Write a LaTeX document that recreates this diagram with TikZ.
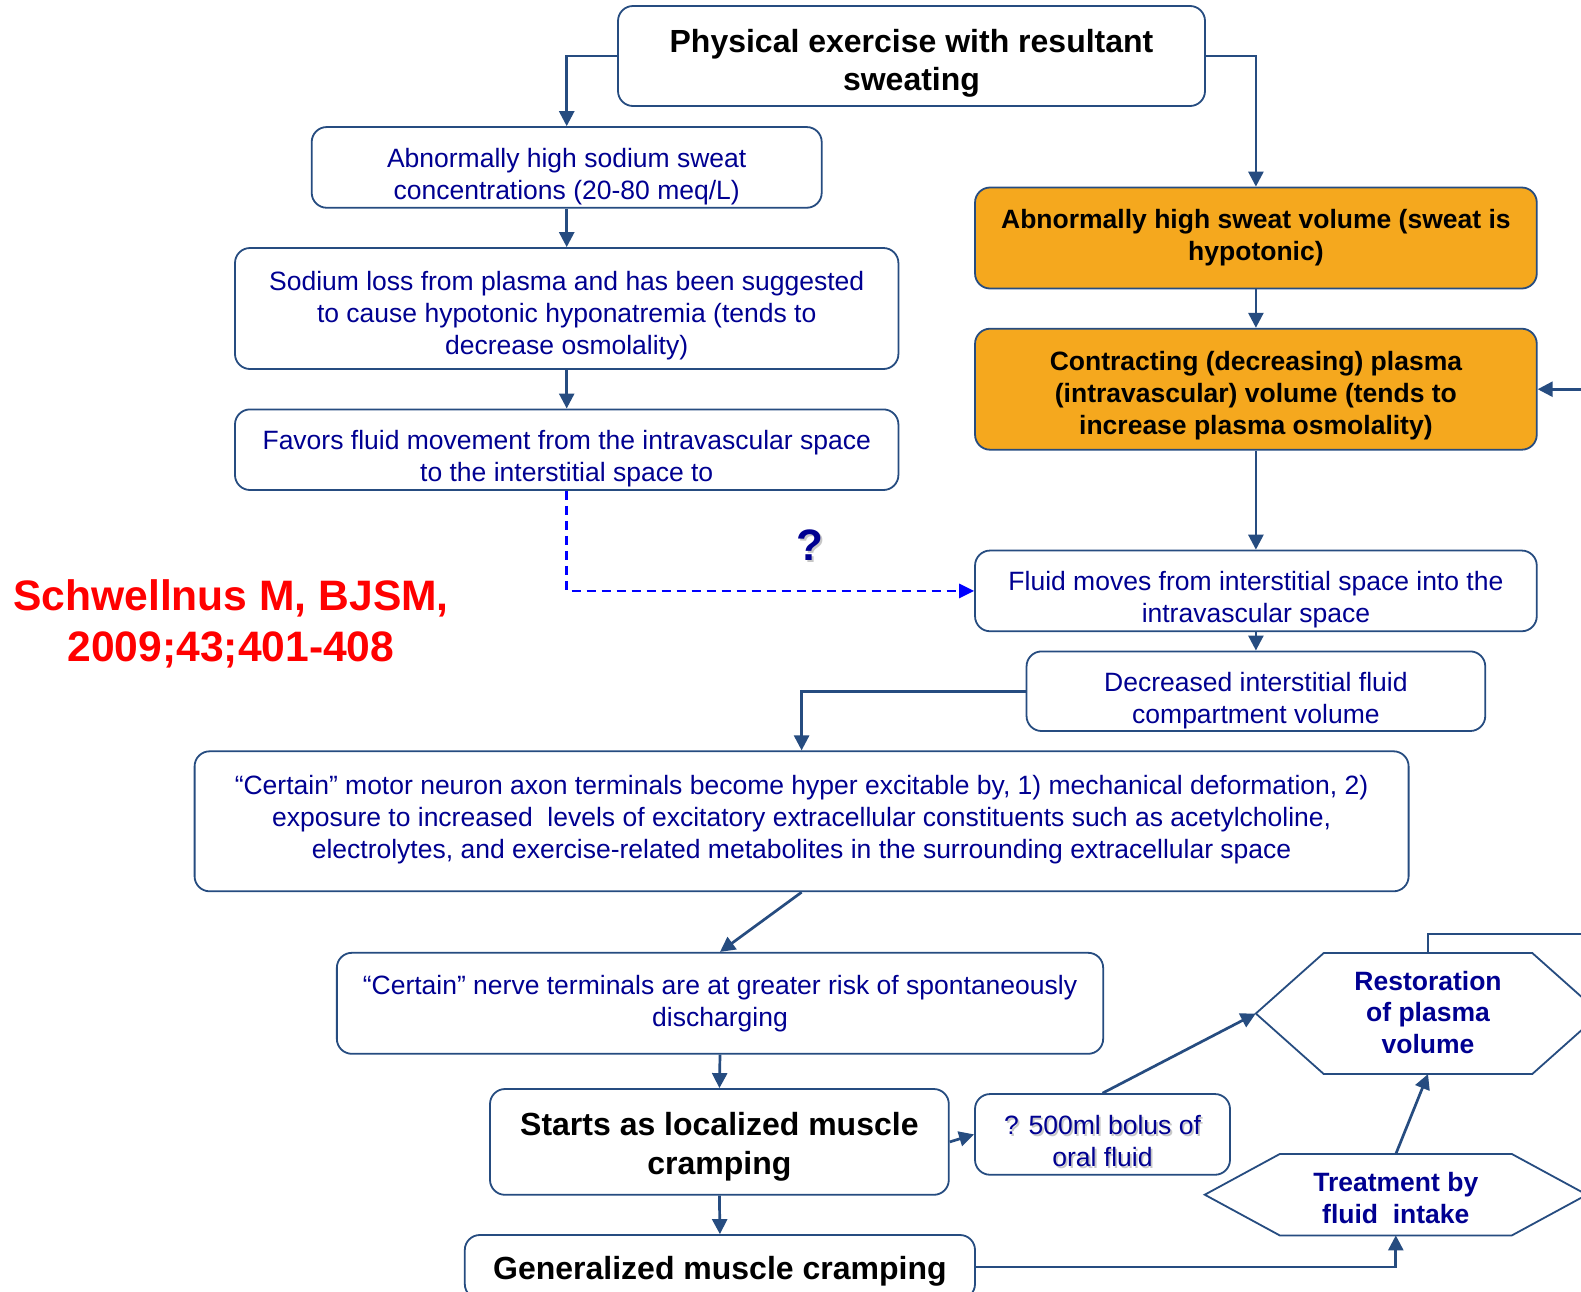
\documentclass[tikz,border=0pt]{standalone}
\usepackage{fontspec}
\setmainfont{Liberation Sans}
\usetikzlibrary{arrows.meta}
\definecolor{edge}{RGB}{38,76,128}
\definecolor{navy}{RGB}{0,0,145}
\definecolor{amber}{RGB}{245,168,30}
\definecolor{dashblue}{RGB}{0,0,255}
\tikzset{
  box/.style={draw=edge, line width=1.8pt, rounded corners=15pt, fill=white,
    inner sep=0pt},
  hotbox/.style={box, fill=amber},
  txt/.style={inner sep=0pt, align=center, text=navy,
    font=\fontsize{26.5}{32}\selectfont},
  hottxt/.style={txt, text=black, font=\bfseries\fontsize{26.5}{32}\selectfont},
  bigtxt/.style={txt, text=black, font=\bfseries\fontsize{32}{38.3}\selectfont},
  hexlabel/.style={inner sep=0pt, align=center, text=navy,
    font=\bfseries\fontsize{26.5}{31.7}\selectfont},
  hexline/.style={draw=edge, line width=1.8pt, fill=white, line join=miter},
  conn/.style={draw=edge, line width=2.7pt, -{Triangle[length=15pt,width=15pt]}},
  guess/.style={draw=dashblue, line width=2.8pt, dash pattern=on 9pt off 6pt,
    -{Triangle[length=15pt,width=14pt]}},
}
\begin{document}
\begin{tikzpicture}[x=1pt, y=-1pt]
\path[use as bounding box, fill=white] (0,0) rectangle (1581,1291);
\clip (0,0) rectangle (1581,1291);

% left branch
\node[box, minimum width=587pt, minimum height=100pt] (title) at (911.5,56) {};
\node[bigtxt] at ([yshift=-7pt]title.center) {Physical exercise with resultant\\sweating};
\node[box, minimum width=510pt, minimum height=80.7pt] (sod) at (566.7,167.4) {};
\node[txt] at ([yshift=-9pt]sod.center) {Abnormally high sodium sweat\\concentrations (20-80 meq/L)};
\node[box, minimum width=663.4pt, minimum height=121pt] (loss) at (566.7,308.5) {};
\node[txt] at ([yshift=-7pt]loss.center)
  {Sodium loss from plasma and has been suggested\\to cause hypotonic hyponatremia (tends to\\decrease osmolality)};
\node[box, minimum width=663.4pt, minimum height=80.6pt] (fav) at (566.7,449.7) {};
\node[txt] at ([yshift=-9pt]fav.center)
  {Favors fluid movement from the intravascular space\\to the interstitial space to};

% right branch
\node[hotbox, minimum width=561.7pt, minimum height=101pt] (o1) at (1255.9,238) {};
\node[hottxt] at (o1.center) {Abnormally high sweat volume (sweat is\\hypotonic)};
\node[hotbox, minimum width=561.7pt, minimum height=121pt] (o2) at (1255.9,389.2) {};
\node[hottxt] at ([yshift=-6pt]o2.center)
  {Contracting (decreasing) plasma\\(intravascular) volume (tends to\\increase plasma osmolality)};
\node[box, minimum width=561.7pt, minimum height=80.7pt] (fm) at (1255.9,590.9) {};
\node[txt] at ([yshift=-9pt]fm.center) {Fluid moves from interstitial space into the\\intravascular space};
\node[box, minimum width=458.7pt, minimum height=79.6pt] (dec) at (1255.9,691.2) {};
\node[txt] at ([yshift=-9pt]dec.center) {Decreased interstitial fluid\\compartment volume};

% lower chain
\node[box, minimum width=1214pt, minimum height=140pt] (cert) at (801.6,821.3) {};
\node[txt] at ([yshift=2pt]cert.center)
  {“Certain” motor neuron axon terminals become hyper excitable by, 1) mechanical deformation, 2)\\
   exposure to increased\ \ levels of excitatory extracellular constituents such as acetylcholine,\\
   electrolytes, and exercise-related metabolites in the surrounding extracellular space};
\node[box, minimum width=766.3pt, minimum height=101pt] (nerve) at (720,1003.3) {};
\node[txt] at (nerve.center)
  {“Certain” nerve terminals are at greater risk of spontaneously\\discharging};
\node[box, minimum width=458.8pt, minimum height=105.8pt] (starts) at (719.4,1141.9) {};
\node[bigtxt] at ([yshift=-5pt]starts.center) {Starts as localized muscle\\cramping};
\node[box, minimum width=510.2pt, minimum height=64pt] (gen) at (719.9,1267) {};
\node[bigtxt] at ([yshift=-4pt]gen.center) {Generalized muscle cramping};
\node[box, minimum width=255pt, minimum height=80.7pt] (bolus) at (1102.5,1134.4) {};
\node[txt, text=black!22] at ([xshift=1.8pt,yshift=-8.8pt]bolus.center) {? 500ml bolus of\\oral fluid};
\node[txt] at ([yshift=-7pt]bolus.center) {? 500ml bolus of\\oral fluid};

% hexagons
\node[hexlabel, minimum width=344pt, minimum height=120.7pt] (res) at (1428,1013.5) {};
\path[hexline] (res.west) -- ([xshift=68pt]res.north west) -- ([xshift=-68pt]res.north east)
  -- (res.east) -- ([xshift=-68pt]res.south east) -- ([xshift=68pt]res.south west) -- cycle;
\node[hexlabel] at ([yshift=1pt]res.center) {Restoration\\of plasma\\volume};

\node[hexlabel, minimum width=381.7pt, minimum height=81pt] (tr) at (1395.8,1194.7) {};
\path[hexline] (tr.west) -- ([xshift=75pt]tr.north west) -- ([xshift=-75pt]tr.north east)
  -- (tr.east) -- ([xshift=-75pt]tr.south east) -- ([xshift=75pt]tr.south west) -- cycle;
\node[hexlabel] at ([yshift=-3pt]tr.center) {Treatment by\\fluid\ \ intake};

% free labels
\node[text=black!22, font=\bfseries\fontsize{44}{44}\selectfont] at (812,547) {?};
\node[text=navy, font=\bfseries\fontsize{44}{44}\selectfont] (qm) at (810,545) {?};
\node[text=red, align=center, font=\bfseries\fontsize{42.6}{51}\selectfont] (ref) at (231,624)
  {Schwellnus M, BJSM,\\2009;43;401-408};

% connectors
\coordinate (loop) at (1625,934);
\draw[conn] (title.west) -| (sod.north);
\draw[conn] (title.east) -| (o1.north);
\draw[conn] (sod.south) -- (loss.north);
\draw[conn] (loss.south) -- (fav.north);
\draw[guess] (fav.south) |- (fm.west);
\draw[conn] (o1.south) -- (o2.north);
\draw[conn] (o2.south) -- (fm.north);
\draw[conn] (fm.south) -- (dec.north);
\draw[conn] (dec.west) -| (cert.north);
\draw[conn] (cert.south) -- (nerve.north);
\draw[conn] (nerve.south) -- (starts.north);
\draw[conn] (starts.south) -- (gen.north);
\draw[conn] (starts.east) -- (bolus.west);
\draw[conn] (bolus.north) -- (res.west);
\draw[conn] (tr.north) -- (res.south);
\draw[conn] (gen.east) -| (tr.south);
\draw[conn] (res.north) |- (loop) |- (o2.east);
\end{tikzpicture}
\end{document}
